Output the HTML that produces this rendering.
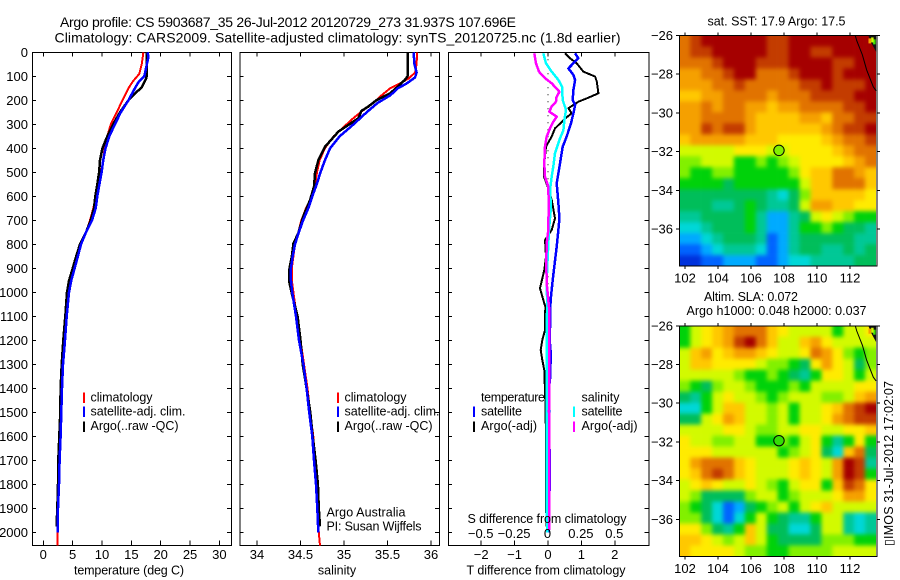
<!DOCTYPE html>
<html>
<head>
<meta charset="utf-8">
<title>Argo profile</title>
<style>
html,body{margin:0;padding:0;background:#fff;}
svg{display:block;font-family:"Liberation Sans","DejaVu Sans",sans-serif;fill:#000;}
text{font-size:12.5px;}
.frame{fill:none;stroke:#000;stroke-width:1;shape-rendering:crispEdges;}
</style>
</head>
<body>
<svg id="chart" width="900" height="580" viewBox="0 0 900 580" xmlns="http://www.w3.org/2000/svg">
<defs>
<filter id="mapSmooth" x="-10%" y="-10%" width="120%" height="120%" color-interpolation-filters="sRGB"><feGaussianBlur stdDeviation="2"/></filter>
<clipPath id="clipSST"><rect x="679.5" y="35.5" width="196.5" height="230.6"/></clipPath>
<clipPath id="clipSLA"><rect x="679.5" y="325.8" width="196.5" height="230.6"/></clipPath>
</defs>
<rect x="0" y="0" width="900" height="580" fill="#fff"/>
<text x="60" y="27" textLength="456" style="font-size:14px">Argo profile: CS 5903687_35 26-Jul-2012 20120729_273 31.937S 107.696E</text>
<text x="54.5" y="42.5" textLength="566" style="font-size:14px">Climatology: CARS2009. Satellite-adjusted climatology: synTS_20120725.nc (1.8d earlier)</text>

<g id="panelT"></g>
<g id="panelS"></g>
<g id="panelD"></g>
<g id="mapSST"></g>
<g id="mapSLA"></g>

<text x="129" y="574.5" text-anchor="middle" textLength="110">temperature (deg C)</text>
<text x="337" y="574.5" text-anchor="middle">salinity</text>
<text x="546" y="574.5" text-anchor="middle" textLength="159">T difference from climatology</text>

<g>
<rect x="83" y="392.5" width="2" height="10.5" fill="#f00"/>
<rect x="83" y="406.5" width="2" height="10.5" fill="#00f"/>
<rect x="83" y="421.5" width="2" height="10.5" fill="#000"/>
<text x="90.5" y="401.5" textLength="62">climatology</text>
<text x="90.5" y="415.5" textLength="95">satellite-adj. clim.</text>
<text x="90.5" y="430" textLength="88">Argo(..raw -QC)</text>
</g>
<g>
<rect x="337" y="392.5" width="2" height="10.5" fill="#f00"/>
<rect x="337" y="406.5" width="2" height="10.5" fill="#00f"/>
<rect x="337" y="421.5" width="2" height="10.5" fill="#000"/>
<text x="344.5" y="401.5" textLength="62">climatology</text>
<text x="344.5" y="415.5" textLength="95">satellite-adj. clim.</text>
<text x="344.5" y="430" textLength="88">Argo(..raw -QC)</text>
<text x="326.5" y="516.5" textLength="79">Argo Australia</text>
<text x="326.5" y="530.5" textLength="95">PI: Susan Wijffels</text>
</g>
<g>
<text x="481" y="401.5" textLength="64">temperature</text>
<rect x="473" y="406.5" width="2" height="10.5" fill="#00f"/>
<rect x="473" y="421.5" width="2" height="10.5" fill="#000"/>
<text x="481" y="415.5" textLength="41">satellite</text>
<text x="481" y="430" textLength="56">Argo(-adj)</text>
<text x="581.5" y="401.5" textLength="38">salinity</text>
<rect x="573" y="406.5" width="2" height="10.5" fill="#0ff"/>
<rect x="573" y="421.5" width="2" height="10.5" fill="#f0f"/>
<text x="581.5" y="415.5" textLength="41">satellite</text>
<text x="581.5" y="430" textLength="56">Argo(-adj)</text>
<text x="467.5" y="523" textLength="159">S difference from climatology</text>
</g>

<text x="707.5" y="25.5" textLength="138">sat. SST: 17.9 Argo: 17.5</text>
<text x="704" y="301" textLength="94">Altim. SLA: 0.072</text>
<text x="686.5" y="315" textLength="180">Argo h1000: 0.048 h2000: 0.037</text>
<text transform="translate(893 546) rotate(-90)" x="0" y="0" textLength="165">▯IMOS 31-Jul-2012 17:02:07</text>
</svg>

<script>
// ---------- profile data ----------
const depthTicks = [0,100,200,300,400,500,600,700,800,900,1000,1100,1200,1300,1400,1500,1600,1700,1800,1900,2000];
const tempTicks = [0,5,10,15,20,25,30];
const salTicks = [34,34.5,35,35.5,36];
const diffTTicks = [-2,-1,0,1,2];
const diffSTicks = [-0.5,-0.25,0,0.25,0.5];
const lonTicks = [102,104,106,108,110,112];
const latTicks = [-26,-28,-30,-32,-34,-36];

const tClimDepth = [0,50,90,120,150,200,250,300,350,400,450,500,550,600,650,700,750,800,850,900,950,1000,1100,1200,1300,1400,1500,1600,1700,1800,1900,2000,2056];
const tClimValue = [17.05,16.76,16.36,15.3,14.5,13.5,12.5,11.5,10.9,10.45,10.2,9.83,9.43,8.92,8.52,7.95,7.27,6.42,5.8,5.2,4.66,4.26,3.9,3.6,3.3,3.1,3.0,2.9,2.75,2.6,2.5,2.39,2.39];
const tArgoDepth = [0,100,110,146,185,200,250,300,350,400,450,500,550,600,650,700,750,800,850,900,950,1000,1100,1200,1300,1400,1500,1600,1700,1800,1900,1975];
const tArgoValue = [17.6,17.6,17.5,16.76,15.05,14.5,13.07,11.9,10.9,10.06,9.66,9.5,9.2,8.86,8.64,8.07,7.27,6.25,5.6,5.0,4.4,4.03,3.75,3.4,3.13,2.95,2.9,2.73,2.56,2.5,2.39,2.27];
const tSatDepth = [0,20,100,125,150,200,250,300,350,400,450,500,550,600,650,700,750,800,850,900,950,1000,1100,1200,1300,1400,1500,1600,1700,1800,1900,2000];
const tSatValue = [17.78,17.9,17.2,16.2,15.6,14.5,13.2,12.2,11.25,10.6,10.2,9.94,9.55,9.2,8.92,8.3,7.27,6.42,5.9,5.34,4.77,4.38,3.98,3.69,3.35,3.18,3.07,2.95,2.78,2.67,2.5,2.44];

const sClimDepth = [0,50,85,110,130,150,180,210,250,280,320,350,400,450,500,550,600,650,700,750,800,900,950,1000,1100,1200,1300,1400,1500,1600,1700,1800,1900,2000,2056];
const sClimValue = [35.84,35.835,35.816,35.74,35.64,35.53,35.43,35.34,35.19,35.09,34.97,34.88,34.78,34.72,34.69,34.667,34.63,34.563,34.51,34.475,34.437,34.40,34.40,34.418,34.456,34.50,34.54,34.58,34.61,34.647,34.667,34.686,34.697,34.71,34.724];
const sArgoDepth = [0,100,115,143,171,199,226,244,275,331,394,450,504,560,615,685,754,796,851,907,955,1004,1032,1100,1200,1300,1400,1500,1600,1700,1800,1900,1975];
const sArgoValue = [35.73,35.73,35.70,35.62,35.53,35.375,35.28,35.20,35.165,34.935,34.78,34.705,34.667,34.655,34.61,34.53,34.475,34.42,34.40,34.37,34.37,34.40,34.418,34.467,34.50,34.525,34.57,34.613,34.64,34.674,34.70,34.71,34.724];
const sSatDepth = [0,50,85,105,130,150,180,210,250,300,350,400,450,500,550,600,650,700,750,800,850,900,950,1000,1100,1200,1300,1400,1500,1600,1700,1800,1900,2000];
const sSatValue = [35.80,35.81,35.835,35.816,35.72,35.62,35.53,35.39,35.26,35.11,34.95,34.84,34.78,34.73,34.686,34.636,34.59,34.53,34.48,34.437,34.41,34.39,34.39,34.405,34.448,34.483,34.533,34.57,34.60,34.636,34.655,34.678,34.693,34.705];

const dTSatDepth = [4,25,46,67,94,115,157,199,220,254,296,351,393,463,546,629,692,740,810,879,949,1018,1074,1100,1200,1250,1350,1400,1500,1600,1700,1800,1900,2000];
const dTSatValue = [0.81,0.91,0.76,0.61,0.76,0.81,0.76,0.74,0.81,0.76,0.69,0.56,0.44,0.36,0.26,0.31,0.34,0.31,0.26,0.20,0.14,0.09,0.06,0.07,0.05,0.08,0.07,0.03,0.03,0.04,0.05,0.05,0.03,0.02];
const dTArgoDepth = [4,25,46,81,101,122,171,192,206,233,254,271,317,351,393,463,518,560,615,692,740,782,851,907,983,1032,1060,1157,1199,1240,1282,1324,1449,1600,1975];
const dTArgoValue = [0.51,0.66,0.86,1.06,1.41,1.46,1.51,1.16,0.91,0.61,0.71,0.56,0.21,0.11,-0.06,-0.11,-0.12,-0.01,0.11,0.21,0.11,-0.09,-0.06,-0.11,-0.24,-0.14,-0.08,-0.09,-0.17,-0.22,-0.17,-0.11,-0.08,-0.06,-0.05];
const dSSatDepth = [4,46,81,115,143,199,240,282,324,365,421,476,518,574,643,740,851,949,1074,1100,1500,1900,2000];
const dSSatValue = [-0.035,-0.015,0.0275,0.0775,0.105,0.11,0.135,0.1225,0.115,0.085,0.0525,0.04,0.0275,0.015,0.0225,0.0075,-0.0025,-0.01,-0.005,-0.01,-0.01,-0.01,-0.005];
const dSArgoDepth = [4,46,81,108,129,164,192,206,226,247,268,289,317,351,393,463,518,560,629,740,796,879,962,1074,1100,1500,1900,1990];
const dSArgoValue = [-0.1025,-0.09,-0.0675,-0.0225,0.0275,0.085,0.06,0.06,0.0275,0.01,0.065,0.04,0.015,-0.01,-0.0225,-0.0275,-0.0225,0.0025,0.005,0.0025,-0.01,-0.0125,-0.01,0.01,0.01,0.0075,0.0075,0.0075];
const zeroLineDepth = [0,1000];

// ---------- map data: colour level of each grid cell, north to south ----------
const sstLevels = [
[12,13,14,14,14,14,14,14,13,13,14,14,14,14,14,14,14,14],
[12,13,13,14,14,14,14,14,13,13,14,14,13,13,14,14,14,14],
[12,12,12,13,14,14,14,13,13,13,14,14,14,14,13,13,14,14],
[11,11,12,12,13,14,14,12,12,12,13,14,14,14,13,14,14,14],
[11,11,11,12,12,13,12,12,12,12,12,13,13,14,13,13,13,14],
[10,10,11,11,12,12,12,12,11,12,12,12,13,13,13,13,14,14],
[11,11,12,11,12,12,11,11,10,11,11,12,12,12,12,13,13,14],
[11,11,12,12,12,12,11,10,10,10,10,11,11,10,12,12,13,13],
[11,11,13,12,13,13,11,10,10,10,10,10,10,11,12,13,13,14],
[10,11,11,11,11,11,10,10,10,9,9,9,9,10,11,12,12,13],
[8,8,8,8,8,9,9,9,8,8,9,9,9,9,10,11,12,12],
[7,7,8,8,8,6,6,7,6,7,8,9,9,9,9,10,11,12],
[7,6,6,7,7,6,6,6,6,6,7,9,10,10,12,12,11,10],
[6,6,6,6,5,6,6,6,6,6,6,8,10,10,12,12,12,10],
[5,5,5,5,5,5,5,5,4,3,5,7,10,10,10,10,10,9],
[5,5,5,4,4,5,6,5,4,4,5,8,11,11,10,10,9,9],
[4,4,5,5,5,5,6,4,2,2,4,5,8,9,8,7,6,6],
[3,3,4,5,5,5,6,4,2,2,4,6,6,7,6,5,5,4],
[2,2,3,4,5,5,5,4,1,2,4,5,5,5,5,5,4,4],
[1,1,2,3,4,4,4,3,1,2,4,5,5,4,4,5,4,5],
[0,0,1,1,2,2,2,1,1,2,3,3,4,4,4,4,5,5]
];
const slaLevels = [
[6,8,9,10,11,12,12,12,10,9,8,8,8,8,6,8,8,9],
[6,8,9,10,11,13,14,12,10,8,8,10,11,9,8,8,8,8],
[8,10,11,9,10,11,11,10,9,8,8,9,12,11,9,7,6,7],
[8,10,10,9,9,9,9,8,7,7,6,5,9,11,9,8,5,7],
[8,8,8,8,8,7,6,6,7,6,5,4,6,9,9,8,6,8],
[7,6,5,7,8,8,7,6,6,6,7,6,8,8,8,8,9,9],
[5,4,6,8,9,8,8,7,6,7,8,8,8,7,7,8,10,11],
[3,3,6,8,10,10,8,8,7,8,6,8,8,9,10,12,13,14],
[5,5,8,9,11,10,8,8,7,8,6,8,8,9,11,12,13,13],
[8,8,8,8,9,9,8,7,7,8,8,9,9,8,8,9,9,10],
[9,8,8,7,7,8,8,6,6,7,6,8,9,6,4,6,9,6],
[9,9,9,8,8,8,8,8,8,6,7,8,9,5,3,10,12,5],
[9,11,12,12,12,10,9,8,8,8,9,10,9,8,11,14,13,4],
[9,10,12,13,12,10,9,8,8,8,9,10,9,8,11,14,13,6],
[8,9,10,9,8,8,9,8,7,6,8,9,9,6,10,13,12,9],
[8,7,5,5,5,5,7,8,8,6,7,8,8,8,9,11,11,9],
[7,6,5,3,1,2,5,6,7,8,6,8,9,10,8,8,8,8],
[7,7,5,3,1,3,6,8,6,5,4,4,6,8,8,4,3,4],
[9,9,7,5,4,6,10,8,5,5,3,3,5,8,8,4,3,4],
[10,10,9,8,7,8,10,8,6,5,5,5,5,7,7,7,6,6],
[10,9,9,9,9,8,7,7,6,6,7,7,7,7,8,8,8,8]
];
const coastLon = [112.32,112.41,112.75,113.01,113.41,113.58];
const coastLat = [-26,-26.27,-27.0,-27.78,-28.65,-28.85];
const shoreLon = [113.11,113.3,113.58];
const shoreLat = [-26,-26.4,-26.84];
const speckLon = [113.4,113.12,113.28];
const speckLat = [-26.2,-26.15,-26.1];
const speckLevel = [6.5,11,8];
const argoLon = 107.696;
const argoLat = -31.937;
const sstArgoLevel = 7;
const slaArgoLevel = 6.4;

// ---------- helpers ----------
const SVGNS = 'http://www.w3.org/2000/svg';
function mk(parent, tag, attrs, txt) {
  const e = document.createElementNS(SVGNS, tag);
  for (const k in attrs) e.setAttribute(k, attrs[k]);
  if (txt !== undefined) e.textContent = txt;
  parent.appendChild(e);
  return e;
}
const TOP = 52.3, DEPTH_SCALE = 0.24, BOTTOM = 545.5;
const depthY = d => TOP + d * DEPTH_SCALE;
const tempX = v => 43.3 + v * 5.87;
const salX = v => 257 + (v - 34) * 87;
const diffTX = v => 548 + v * 33.4;
const diffSX = v => 548 + v * 133.6;
const lonX = v => 685 + (v - 102) * 16.5;
const latFor = y0 => v => y0 + (-26 - v) * 19.35;
const fmtNum = v => String(v).replace('-', '\u2212');

function drawPanel(g, x0, x1, xf, ticks, showDepth) {
  const frame = mk(g, 'rect', {x: x0 + .5, y: TOP, width: x1 - x0, height: BOTTOM - TOP, class: 'frame'});
  
  
  depthTicks.forEach(d => {
    const y = depthY(d);
    const l = mk(g, 'path', {d: `M${x0} ${y}h4M${x1} ${y}h-4`, stroke: '#000', 'shape-rendering': 'crispEdges'});
    
    
    if (showDepth) {
      const t = mk(g, 'text', {x: 28, y: y + 4.5, 'text-anchor': 'end', style: 'font-size:13px'}, d);
      
      
    }
  });
  ticks.forEach(v => {
    const x = xf(v);
    const l = mk(g, 'path', {d: `M${x} ${TOP}v4M${x} ${BOTTOM}v-5`, stroke: '#000', 'shape-rendering': 'crispEdges'});
    
    
    const t = mk(g, 'text', {x: x, y: 559, 'text-anchor': 'middle', style: 'font-size:13px'}, fmtNum(v));
    
    
  });
}
function drawCurve(g, xf, values, depths, color, width, name) {
  const pts = values.map((v, i) => xf(v).toFixed(1) + ',' + depthY(depths[i]).toFixed(1)).join(' ');
  const p = mk(g, 'polyline', {points: pts, fill: 'none', stroke: color, 'stroke-width': width, 'shape-rendering': 'crispEdges', 'stroke-linejoin': 'round'});
  
  
}
const levelStops = [[0,50,220],[0,100,255],[0,170,255],[0,215,215],[0,200,150],[0,190,90],[0,210,10],[130,240,0],[210,250,0],[255,235,0],[255,200,0],[245,160,0],[225,115,0],[195,60,0],[165,0,0]];
function levelColor(v) {
  const c = Math.max(0, Math.min(14, v));
  const i = Math.min(13, Math.floor(c)), f = c - i;
  const a = levelStops[i], b = levelStops[i + 1];
  return `rgb(${a.map((p, k) => Math.round(p + (b[k] - p) * f)).join(',')})`;
}
function drawMap(g, levels, y0, markerLevel, clipId) {
  const yf = latFor(y0);
  const mapW = 196.7, mapH = 230.6, left = 679.3;
  const cw = mapW / levels[0].length, ch = mapH / levels.length;
  const clip = mk(g, 'g', {'clip-path': `url(#${clipId})`});
  
  
  const field = mk(clip, 'g', {filter: 'url(#mapSmooth)'});
  
  
  const pad = 14; // edge cells run past the frame so smoothing keeps full colour at the border
  levels.forEach((row, r) => row.forEach((lvl, c) => {
    const x1 = c === 0 ? left - pad : left + c * cw;
    const x2 = c === row.length - 1 ? left + mapW + pad : left + (c + 1) * cw + .3;
    const y1 = r === 0 ? y0 - pad : y0 + r * ch;
    const y2 = r === levels.length - 1 ? y0 + mapH + pad : y0 + (r + 1) * ch + .3;
    const cell = mk(field, 'rect', {x: x1.toFixed(2), y: y1.toFixed(2), width: (x2 - x1).toFixed(2), height: (y2 - y1).toFixed(2), fill: levelColor(lvl)});
    
    
  }));
  // land in the north-east corner
  const land = mk(g, 'polygon', {points: [shoreLon.map((v, i) => lonX(v) + ',' + yf(shoreLat[i])).join(' '), lonX(113.58) + ',' + y0].join(' '), fill: '#111'});
  
  
  speckLon.forEach((v, i) => {
    const s = mk(g, 'rect', {x: lonX(v), y: yf(speckLat[i]), width: 2.5, height: 5, fill: levelColor(speckLevel[i])});
    
    
  });
  const coast = mk(g, 'polyline', {points: coastLon.map((v, i) => lonX(v) + ',' + yf(coastLat[i])).join(' '), fill: 'none', stroke: '#000', 'stroke-width': 1});
  
  
  const frame = mk(g, 'rect', {x: 679.5, y: y0, width: 197.5, height: mapH, class: 'frame'});
  
  
  lonTicks.forEach(v => {
    const x = lonX(v);
    const l = mk(g, 'path', {d: `M${x} ${y0}v-3M${x} ${y0 + mapH}v3`, stroke: '#000', 'shape-rendering': 'crispEdges'});
    
    
    const t = mk(g, 'text', {x: x, y: y0 + mapH + 16.5, 'text-anchor': 'middle', style: 'font-size:13px'}, v);
    
    
  });
  latTicks.forEach(v => {
    const y = yf(v);
    const l = mk(g, 'path', {d: `M679 ${y}h-3M877 ${y}h3`, stroke: '#000', 'shape-rendering': 'crispEdges'});
    
    
    const t = mk(g, 'text', {x: 673, y: y + 4.5, 'text-anchor': 'end', style: 'font-size:13px'}, fmtNum(v));
    
    
  });
  const mark = mk(g, 'circle', {cx: lonX(argoLon), cy: yf(argoLat), r: 5.2, fill: levelColor(markerLevel), stroke: '#000', 'stroke-width': 1});
  
  
}

// ---------- draw ----------
const gT = document.getElementById('panelT');
drawPanel(gT, 32, 231, tempX, tempTicks, true);
drawCurve(gT, tempX, tClimValue, tClimDepth, '#f00', 2, 'temperature-climatology-line');
drawCurve(gT, tempX, tArgoValue, tArgoDepth, '#000', 2.5, 'temperature-argo-line');
drawCurve(gT, tempX, tSatValue, tSatDepth, '#00f', 2.5, 'temperature-satellite-line');

const gS = document.getElementById('panelS');
drawPanel(gS, 239.5, 439, salX, salTicks, false);
drawCurve(gS, salX, sClimValue, sClimDepth, '#f00', 2, 'salinity-climatology-line');
drawCurve(gS, salX, sArgoValue, sArgoDepth, '#000', 2.5, 'salinity-argo-line');
drawCurve(gS, salX, sSatValue, sSatDepth, '#00f', 2.5, 'salinity-satellite-line');

const gD = document.getElementById('panelD');
drawPanel(gD, 448, 648.5, diffTX, diffTTicks, false);
const zeroLine = mk(gD, 'line', {x1: diffTX(0), x2: diffTX(0), y1: depthY(zeroLineDepth[0]), y2: depthY(zeroLineDepth[1]), stroke: '#000', 'stroke-dasharray': '1 6'});


drawCurve(gD, diffTX, dTArgoValue, dTArgoDepth, '#000', 2, 't-difference-argo-line');
drawCurve(gD, diffTX, dTSatValue, dTSatDepth, '#00f', 2.5, 't-difference-satellite-line');
drawCurve(gD, diffSX, dSSatValue, dSSatDepth, '#0ff', 2.5, 's-difference-satellite-line');
drawCurve(gD, diffSX, dSArgoValue, dSArgoDepth, '#f0f', 2.5, 's-difference-argo-line');
diffSTicks.forEach(v => {
  const t = mk(gD, 'text', {x: diffSX(v) - 0.5, y: 538, 'text-anchor': 'middle', style: 'font-size:13px'}, fmtNum(v));
  
  
});

drawMap(document.getElementById('mapSST'), sstLevels, 35.5, sstArgoLevel, 'clipSST');
drawMap(document.getElementById('mapSLA'), slaLevels, 325.8, slaArgoLevel, 'clipSLA');
</script>
</body>
</html>
